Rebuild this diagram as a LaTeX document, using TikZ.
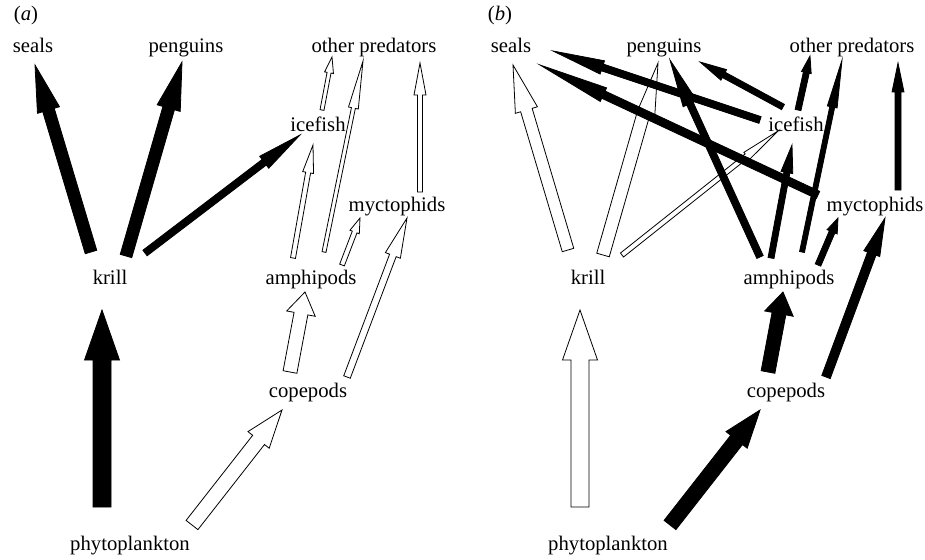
\documentclass[tikz,border=0pt]{standalone}
\usepackage{fontspec}
\setmainfont{Liberation Serif}
\usetikzlibrary{calc}
\tikzset{
  lbl/.style={anchor=base, inner sep=0pt, font=\fontsize{20.7}{24}\selectfont},
  arrline/.style={draw=black, line width=0.8pt, line join=miter, miter limit=20}
}
% #1 fill, #2 tail, #3 tip, #4 shaft half width, #5 left head half width, #6 right head half width, #7 head length
\newcommand\blockarrow[7]{%
  \coordinate (ba-t) at #2;
  \coordinate (ba-h) at #3;
  \coordinate (ba-b) at ($(ba-h)!#7pt!(ba-t)$);
  \filldraw[arrline, fill=#1]
    ($(ba-t)!#4pt!90:(ba-h)$) -- ($(ba-b)!#4pt!90:(ba-h)$) -- ($(ba-b)!#5pt!90:(ba-h)$)
    -- (ba-h) -- ($(ba-b)!#6pt!-90:(ba-h)$) -- ($(ba-b)!#4pt!-90:(ba-h)$)
    -- ($(ba-t)!#4pt!-90:(ba-h)$) -- cycle;
}
\begin{document}
\begin{tikzpicture}[x=1pt, y=-1pt]
\useasboundingbox (0,0) rectangle (925,559);

% ---------- panel (a) ----------
\node[lbl] (alab)   at (26,21)  {(\textit{a})};
\node[lbl] (aseals) at (33,53)  {seals};
\node[lbl] (apeng)  at (186,53) {penguins};
\node[lbl] (aother) at (374,53) {other predators};
\node[lbl] (aice)   at (318,131) {icefish};
\node[lbl] (amyct)  at (397,211) {myctophids};
\node[lbl] (akrill) at (110,284) {krill};
\node[lbl] (aamph)  at (311,284) {amphipods};
\node[lbl] (acope)  at (308,397) {copepods};
\node[lbl] (aphyto) at (130,550) {phytoplankton};

\blockarrow{black}{(91,252)}{(35,65)}{6}{11.5}{11.5}{47}
\blockarrow{black}{(126,256)}{(182,62)}{6}{12}{12}{48}
\blockarrow{black}{(145,253)}{(300,135)}{3.5}{7.5}{7.5}{45}
\blockarrow{white}{(293,258)}{(313,145)}{2.5}{5.5}{5.5}{28}
\blockarrow{white}{(322,110)}{(332,57)}{2}{4.5}{4.5}{16}
\blockarrow{white}{(324,252)}{(363,61)}{2}{5}{5}{48}
\blockarrow{white}{(420,192)}{(420,63)}{2.5}{6}{6}{32}
\blockarrow{white}{(342,265)}{(360,218)}{2.5}{5}{5}{15}
\blockarrow{white}{(347,377)}{(407,218)}{3.5}{8}{8}{40}
\blockarrow{white}{(290,372)}{(305,292)}{7}{14.5}{14.5}{22}
\blockarrow{black}{(102,507)}{(102,310)}{9}{17.5}{17.5}{50}
\blockarrow{white}{(192,525)}{(282,410)}{7.5}{13.5}{13.5}{38}

% ---------- panel (b) ----------
\node[lbl] (blab)   at (500,21)  {(\textit{b})};
\node[lbl] (bseals) at (511,53)  {seals};
\node[lbl] (bpeng)  at (664,53) {penguins};
\node[lbl] (bother) at (852,53) {other predators};
\node[lbl] (bice)   at (796,131) {icefish};
\node[lbl] (bmyct)  at (875,211) {myctophids};
\node[lbl] (bkrill) at (588,284) {krill};
\node[lbl] (bamph)  at (789,284) {amphipods};
\node[lbl] (bcope)  at (786,397) {copepods};
\node[lbl] (bphyto) at (608,550) {phytoplankton};

\blockarrow{white}{(568,250)}{(513,65)}{6}{11.5}{11.5}{47}
\blockarrow{white}{(603,255)}{(658,63)}{6.5}{6.5}{11.3}{51}
\blockarrow{white}{(622,255)}{(778,131)}{2.5}{4.5}{4.5}{40}
\blockarrow{black}{(760,257)}{(670,60)}{3.5}{7.5}{7.5}{48}
\blockarrow{black}{(783,107)}{(700,62)}{3}{6}{6}{27}
\blockarrow{black}{(760,120)}{(553,51)}{3.5}{7}{7}{52}
\blockarrow{black}{(818,195)}{(540,65)}{4}{7.5}{7.5}{70}
\blockarrow{black}{(798,110)}{(810,56)}{3}{5}{5}{17}
\blockarrow{black}{(771,258)}{(792,145)}{3}{6}{6}{28}
\blockarrow{black}{(802,252)}{(842,60)}{2.5}{5}{5}{48}
\blockarrow{black}{(898,190)}{(898,63)}{3}{6}{6}{29}
\blockarrow{black}{(818,265)}{(838,218)}{3}{5.5}{5.5}{15}
\blockarrow{black}{(826,377)}{(885,218)}{4.5}{8.5}{8.5}{38}
\blockarrow{black}{(768,372)}{(783,292)}{7}{14.5}{14.5}{22}
\blockarrow{white}{(580,507)}{(580,310)}{9}{17.5}{17.5}{50}
\blockarrow{black}{(670,525)}{(760,410)}{7.5}{13.5}{13.5}{38}
\end{tikzpicture}
\end{document}
